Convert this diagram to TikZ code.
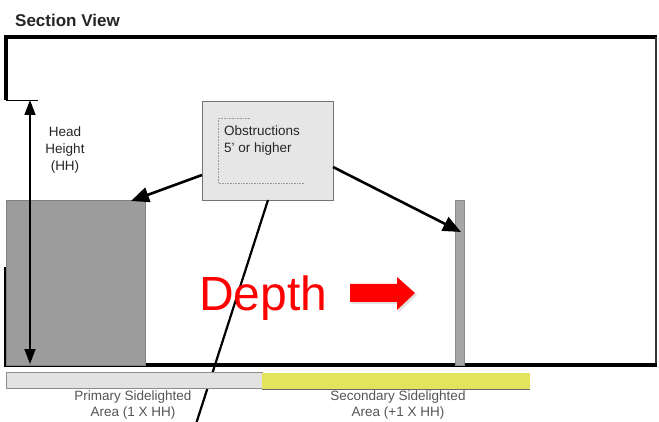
\documentclass[tikz,border=0pt]{standalone}
\usepackage{fontspec}
\setmainfont{Liberation Sans}
\usetikzlibrary{arrows.meta}
\definecolor{wallgray}{HTML}{9C9C9C}
\definecolor{boxgray}{HTML}{E6E6E6}
\definecolor{bargray}{HTML}{E2E2E2}
\definecolor{baryellow}{HTML}{E4E45C}
\definecolor{labelgray}{HTML}{555555}
\tikzset{
  wall/.style={line width=3.5pt, black},
  thinwall/.style={line width=1.2pt, black!80},
  pointer/.style={line width=2.6pt, -{Triangle[length=18pt,width=15pt]}},
  smalltext/.style={font=\fontsize{13.5}{17}\selectfont, align=center, text=black!85},
  bartext/.style={font=\fontsize{13.5}{16.5}\selectfont, align=center, text=labelgray},
}
\begin{document}
\begin{tikzpicture}[x=1pt,y=-1pt]
\useasboundingbox (0,0) rectangle (659,422);
\fill[white] (0,0) rectangle (659,422);
% title
\node[anchor=west, font=\bfseries\fontsize{17}{19}\selectfont, text=black!85, inner sep=0] (title) at (15,20) {Section View};
% frame
\draw[wall] (6,100) -- (6,37) -- (657,37);
\draw[thinwall] (656,37) -- (656,365);
\draw[wall] (6,267) -- (6,365) -- (657,365);
% gray obstruction block
\node[draw=black!50, fill=wallgray, line width=0.8pt, minimum width=139, minimum height=165, inner sep=0, anchor=north west] (block) at (6,200) {};
% pole
\node[draw=black!45, fill=wallgray!90, line width=0.6pt, minimum width=9, minimum height=165, inner sep=0, anchor=north west] (pole) at (455,200) {};
% head height
\coordinate (hhtop) at (30,100);
\coordinate (hhbot) at (30,364);
\draw[line width=0.8pt] (6,100) -- (38,100);
\draw[line width=1.4pt, {Triangle[length=15pt,width=11pt]}-{Triangle[length=15pt,width=11pt]}] (hhtop) -- (hhbot);
\node[smalltext] (hh) at (65,150) {Head\\Height\\(HH)};
% obstruction callout box
\node[draw=black!55, fill=boxgray, line width=0.8pt, minimum width=131, minimum height=99, inner sep=0, anchor=north west] (obs) at (202,101) {};
\draw[black!40, densely dotted, line width=0.6pt] (250,118) -- (218,118) -- (218,183) -- (305,183);
\node[smalltext, align=left, anchor=north west, inner sep=0] (obstext) at (224,126) {Obstructions\\5' or higher};
% pointers
\coordinate (lstart) at (202,175);
\coordinate (ltip) at (131,201);
\coordinate (rstart) at (333,167);
\coordinate (rtip) at (461,232);
\draw[pointer] (lstart) -- (ltip);
\draw[pointer] (rstart) -- (rtip);
% long diagonal line
\coordinate (dtop) at (268,200);
\coordinate (dbot) at (196,424);
\draw[line width=2.2pt] (dtop) -- (dbot);
% depth
\node[anchor=base west, text=red, font=\fontsize{48}{50}\selectfont, inner sep=0] (depth) at (199,310) {Depth};
\fill[black!12] (352,286) -- (399,286) -- (399,279) -- (417,295) -- (399,312) -- (399,304) -- (352,304) -- cycle;
\fill[red] (350,284) -- (397,284) -- (397,277) -- (415,293) -- (397,310) -- (397,302) -- (350,302) -- cycle;
% bottom bars
\node[draw=black!45, fill=bargray, line width=0.8pt, minimum width=256, minimum height=16, inner sep=0, anchor=north west] (pbar) at (6,372) {};
\node[fill=baryellow, minimum width=268, minimum height=16, inner sep=0, anchor=north west] (sbar) at (262,373) {};
\draw[black!60, line width=0.8pt] (sbar.south west) -- (sbar.south east);
\node[bartext] (ptext) at (133,405) {Primary Sidelighted\\Area (1 X HH)};
\node[bartext] (stext) at (398,405) {Secondary Sidelighted\\Area (+1 X HH)};
\end{tikzpicture}
\end{document}
